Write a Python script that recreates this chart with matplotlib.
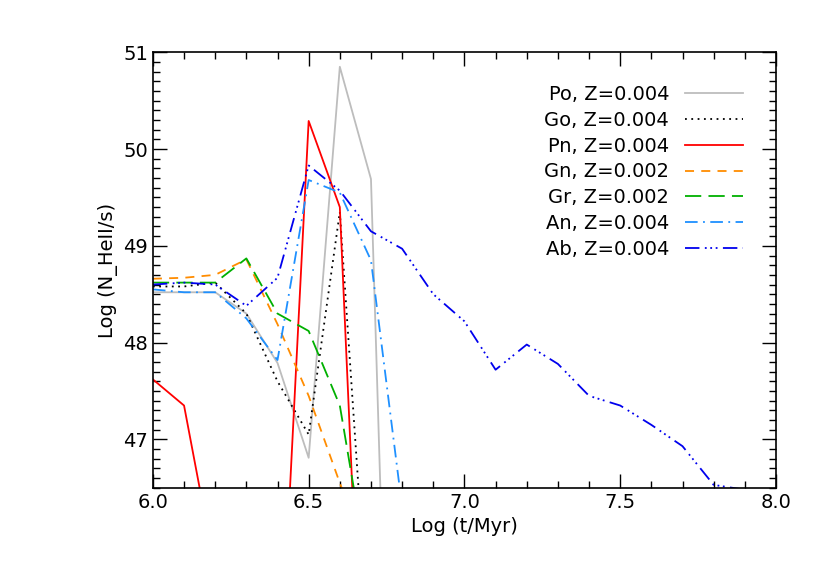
import matplotlib
matplotlib.use("Agg")
import matplotlib.pyplot as plt
from matplotlib.ticker import MultipleLocator

t = [6.0, 6.1, 6.2, 6.3, 6.4, 6.5, 6.6, 6.7, 6.8, 6.9, 7.0, 7.1, 7.2, 7.3, 7.4, 7.5, 7.6, 7.7, 7.8, 7.9]
po = [48.52, 48.52, 48.52, 48.3, 47.79, 46.81, 50.85, 49.69, 39.1]
go = [48.58, 48.58, 48.62, 48.3, 47.6, 47.05, 49.35, 44.6]
pn = [47.62, 47.35, 45.65, 44.0, 43.96, 50.29, 49.40, 42.15]
gn = [48.66, 48.67, 48.7, 48.86, 48.19, 47.45, 46.55, 45.7]
gr = [48.62, 48.62, 48.62, 48.87, 48.3, 48.12, 47.35, 45.45]
an = [48.55, 48.52, 48.52, 48.25, 47.82, 49.68, 49.55, 48.85, 46.3]
ab = [48.6, 48.62, 48.6, 48.38, 48.67, 49.83, 49.57, 49.15, 48.97, 48.5, 48.22,
      47.72, 47.98, 47.78, 47.45, 47.35, 47.15, 46.93, 46.53, 46.48]
labels = ["Po, Z=0.004", "Go, Z=0.004", "Pn, Z=0.004", "Gn, Z=0.002",
          "Gr, Z=0.002", "An, Z=0.004", "Ab, Z=0.004"]

fig = plt.figure(figsize=(8.22, 5.87), dpi=100)
ax = fig.add_axes([0.186, 0.169, 0.758, 0.742])
lw = 1.3
series = [
    (po, dict(color="#bdbdbd", ls="-")),
    (go, dict(color="black", ls=(0, (1, 2.5)))),
    (pn, dict(color="red", ls="-")),
    (gn, dict(color="#ff8c00", ls=(0, (5, 4)))),
    (gr, dict(color="#00b000", ls=(0, (9, 4)))),
    (an, dict(color="#1e90ff", ls=(0, (7, 3, 1, 3)))),
    (ab, dict(color="#0000ee", ls=(0, (8, 3, 1, 2, 1, 2, 1, 3)))),
]
for (vals, st), lab in zip(series, labels):
    ax.plot(t[:len(vals)], vals, lw=lw, label=lab, **st)

ax.set_xlim(6.0, 8.0)
ax.set_ylim(46.5, 51.0)
ax.xaxis.set_minor_locator(MultipleLocator(0.1))
ax.yaxis.set_major_locator(MultipleLocator(1))
ax.yaxis.set_minor_locator(MultipleLocator(0.1))
ax.set_xticks([6.0, 6.5, 7.0, 7.5, 8.0])
ax.set_xticklabels(["6.0", "6.5", "7.0", "7.5", "8.0"])
ax.tick_params(which="both", direction="in", top=True, right=True, labelsize=14)
ax.tick_params(which="major", length=10, width=1)
ax.tick_params(which="minor", length=5, width=1)
for s in ax.spines.values():
    s.set_linewidth(1.2)
ax.set_xlabel("Log (t/Myr)", fontsize=14)
ax.set_ylabel("Log (N_HeII/s)", fontsize=14)
leg = ax.legend(loc="upper right", bbox_to_anchor=(0.975, 0.965), frameon=False,
                fontsize=14, markerfirst=False, handlelength=3, labelspacing=0.35)
for txt in leg.get_texts():
    txt.set_ha("right")
fig.savefig("out.png", dpi=100)
